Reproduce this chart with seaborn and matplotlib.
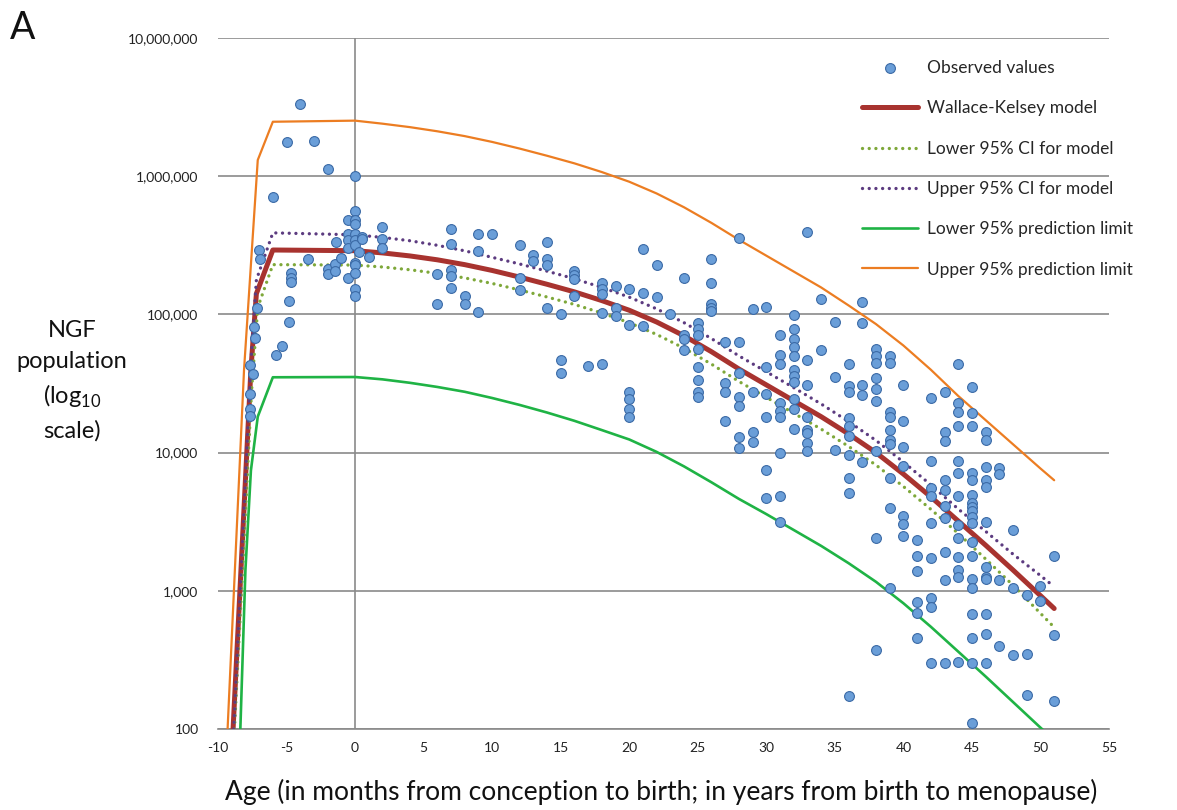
import matplotlib
matplotlib.use("Agg")
import matplotlib.pyplot as plt
import seaborn as sns
import numpy as np
import pandas as pd

# ---------------- data ----------------
# Observed values, prenatal (age in months, negative = before birth)
pre_age = [-7.65, -7.46, -7.65, -7.7, -7.7, -7.36, -7.29, -7.19, -7.0, -6.95,
           -6.0, -5.76, -5.3, -4.98, -4.83, -4.83, -4.64, -4.64, -4.64, -4.03,
           -3.47, -3.0, -2.0, -2.0, -2.0, -1.5, -1.5, -1.4, -1.04,
           -0.5, -0.5, -0.5, -0.5, -0.5,
           0, 0, 0, 0, 0, 0, 0, 0, 0, 0, 0, 0,
           0.25, 0.5, 0.5, 1.0, 2.0, 2.0, 2.0]
pre_value = [43000, 37000, 26500, 20600, 18400, 81000, 67000, 112000, 294000, 251000,
             703000, 51000, 59000, 1760000, 124000, 88000, 198000, 184000, 172000, 3330000,
             251000, 1800000, 1120000, 213000, 195000, 233000, 207000, 334000, 255000,
             482000, 382000, 344000, 304000, 183000,
             1000000, 557000, 482000, 449000, 382000, 344000, 318000, 237000, 229000, 198000, 152000, 137000,
             284000, 365000, 350000, 260000, 432000, 349000, 304000]

# Observed values, postnatal (age in years) grouped by age
post_ages = [6, 7, 8, 9, 10, 12, 13, 14, 15, 16, 17, 18, 19, 20, 21, 22, 23, 24, 25, 26,
             27, 28, 29, 30, 31, 32, 33, 34, 35, 36, 37, 38, 39, 40, 41, 42, 43, 44, 45,
             46, 47, 48, 49, 50, 51]
post_values = [
    [195000, 119000],
    [415000, 323000, 209000, 190000, 154000],
    [136000, 119000],
    [384000, 289000, 104000],
    [384000],
    [316000, 182000, 150000],
    [268000, 245000],
    [334000, 251000, 228000, 112000],
    [100000, 46800, 37800],
    [206000, 193000, 179000, 136000],
    [42500],
    [168000, 153000, 140000, 102000, 44000],
    [160000, 112000, 97000],
    [152000, 84000, 27600, 24400, 20600, 18000],
    [297000, 144000, 83000],
    [226000, 134000],
    [101000],
    [182000, 71000, 66000, 55000],
    [87000, 79000, 71000, 56000, 41600, 33500, 27600, 25400],
    [250000, 170000, 118000, 111000, 106000],
    [63000, 31700, 27600, 16900],
    [356000, 63000, 37700, 25200, 21800, 12900, 10800],
    [110000, 27500, 14000, 11900],
    [114000, 41600, 26700, 18100, 7500, 4700],
    [70600, 50600, 43800, 22700, 20000, 18000, 9900, 4850, 3160],
    [99500, 79000, 66000, 58000, 50000, 39800, 36000, 32300, 24500, 20600, 14800],
    [396000, 46800, 30800, 18200, 14600, 13800, 11700, 10200],
    [130000, 55000],
    [87700, 35000, 10400],
    [44000, 30500, 27600, 17700, 15600, 13200, 9600, 6600, 5100, 173],
    [122000, 86000, 30800, 26100, 8500],
    [55800, 50000, 44700, 34800, 28800, 23800, 10200, 2400, 373],
    [50000, 44300, 19800, 18200, 14600, 12300, 11500, 6500, 4000, 1040],
    [30800, 17000, 10900, 8000, 3500, 3040, 2500],
    [2330, 1800, 1400, 826, 687, 453],
    [24900, 8700, 5500, 4850, 3080, 1720, 884, 767, 299],
    [27600, 14200, 12200, 6300, 5400, 4100, 3350, 1900, 1200, 299],
    [44000, 22700, 19800, 15700, 8700, 7100, 4850, 3000, 2400, 1770, 1410, 1260, 307],
    [29700, 19500, 15700, 7100, 6300, 4900, 4300, 4070, 3800, 3440, 3100, 2260, 1800,
     1210, 1040, 680, 453, 299, 111],
    [14000, 12400, 7900, 6300, 5600, 3160, 1490, 1260, 1210, 680, 486, 299],
    [7700, 7000, 1200, 401],
    [2760, 1040, 343],
    [933, 349, 176],
    [1080, 843],
    [1800, 479, 160],
]

# Model curves as log10(NGF) values
curve_age_post = [0, 2, 4, 6, 8, 10, 12, 14, 16, 18, 20, 22, 24, 26, 28, 30, 32, 34,
                  36, 38, 40, 42, 44, 46, 48, 50, 51]

wk_age_pre = [-8.9, -7.6, -7.2, -6.0]
wk_log_pre = [2.0, 4.6, 5.15, 5.466]
wk_log_post = [5.461, 5.445, 5.423, 5.395, 5.36, 5.318, 5.27, 5.218, 5.163, 5.1, 5.03,
               4.945, 4.845, 4.73, 4.605, 4.49, 4.375, 4.26, 4.135, 4.0, 3.845, 3.68, 3.505,
               3.33, 3.15, 2.965, 2.872]

ci_up_age_pre = [-8.85, -7.6, -7.2, -6.0]
ci_up_log_pre = [2.0, 4.65, 5.25, 5.59]
ci_up_log_post = [5.576, 5.557, 5.533, 5.50, 5.46, 5.413, 5.365, 5.313, 5.258, 5.195, 5.125,
                  5.04, 4.94, 4.825, 4.70, 4.585, 4.47, 4.352, 4.225, 4.088, 3.932, 3.767,
                  3.592, 3.43, 3.265, 3.11, 3.03]

ci_lo_age_pre = [-8.8, -7.55, -7.1, -6.0]
ci_lo_log_pre = [2.0, 4.45, 5.05, 5.36]
ci_lo_log_post = [5.357, 5.343, 5.323, 5.297, 5.264, 5.224, 5.177, 5.126, 5.072, 5.01, 4.94,
                  4.855, 4.755, 4.64, 4.515, 4.40, 4.285, 4.17, 4.045, 3.91, 3.755, 3.59, 3.415,
                  3.23, 3.04, 2.837, 2.736]

pl_lo_age_pre = [-8.37, -8.0, -7.6, -7.1, -6.0]
pl_lo_log_pre = [2.0, 3.15, 3.87, 4.26, 4.545]
pl_lo_log_post = [4.547, 4.53, 4.505, 4.475, 4.44, 4.395, 4.345, 4.29, 4.23, 4.163, 4.095,
                  4.005, 3.9, 3.785, 3.665, 3.555, 3.44, 3.325, 3.2, 3.065, 2.91, 2.74, 2.56,
                  2.38, 2.195, 2.01, 1.92]

pl_up_age_pre = [-9.3, -8.1, -7.1, -6.0]
pl_up_log_pre = [2.0, 4.6, 6.117, 6.394]
pl_up_log_post = [6.402, 6.38, 6.355, 6.325, 6.29, 6.248, 6.2, 6.148, 6.093, 6.03, 5.96,
                  5.875, 5.775, 5.662, 5.54, 5.425, 5.31, 5.195, 5.065, 4.93, 4.775, 4.6, 4.41,
                  4.235, 4.06, 3.885, 3.8]

x_ticks = list(range(-10, 56, 5))
y_ticks = [100, 1000, 10000, 100000, 1000000, 10000000]
y_tick_labels = ["100", "1,000", "10,000", "100,000", "1,000,000", "10,000,000"]

legend_labels = ["Observed values", "Wallace-Kelsey model", "Lower 95% CI for model",
                 "Upper 95% CI for model", "Lower 95% prediction limit",
                 "Upper 95% prediction limit"]

# ---------------- build tables ----------------
obs_age = list(pre_age)
obs_value = list(pre_value)
for a, vals in zip(post_ages, post_values):
    obs_age += [a] * len(vals)
    obs_value += vals
obs = pd.DataFrame({"age": obs_age, "ngf": obs_value})


def curve(age_pre, log_pre, log_post):
    ages = list(age_pre) + list(curve_age_post)
    vals = np.power(10.0, np.array(list(log_pre) + list(log_post)))
    return ages, vals


wk_x, wk_y = curve(wk_age_pre, wk_log_pre, wk_log_post)
cu_x, cu_y = curve(ci_up_age_pre, ci_up_log_pre, ci_up_log_post)
cl_x, cl_y = curve(ci_lo_age_pre, ci_lo_log_pre, ci_lo_log_post)
pl_x, pl_y = curve(pl_lo_age_pre, pl_lo_log_pre, pl_lo_log_post)
pu_x, pu_y = curve(pl_up_age_pre, pl_up_log_pre, pl_up_log_post)

# ---------------- plot ----------------
sns.set_style("white")
plt.rcParams["font.family"] = ["Lato", "DejaVu Sans"]
plt.rcParams["mathtext.fontset"] = "custom"
plt.rcParams["mathtext.rm"] = "Lato"

fig = plt.figure(figsize=(11.77, 8.10), dpi=100)
ax = fig.add_axes([218 / 1177, 1 - 729 / 810, (1109 - 218) / 1177, (729 - 38) / 810])

grid_col = "#8a8a8a"
dotted = (0, (0.01, 2.0))

sns.lineplot(x=wk_x, y=wk_y, ax=ax, color="#a8332f", lw=3.6, sort=False,
             estimator=None, zorder=3, solid_joinstyle="round")
sns.lineplot(x=cl_x, y=cl_y, ax=ax, color="#7ea83a", lw=2.4, sort=False,
             estimator=None, linestyle=dotted, dash_capstyle="round", zorder=3)
sns.lineplot(x=cu_x, y=cu_y, ax=ax, color="#5c3b80", lw=2.4, sort=False,
             estimator=None, linestyle=dotted, dash_capstyle="round", zorder=3)
sns.lineplot(x=pl_x, y=pl_y, ax=ax, color="#1fb345", lw=1.9, sort=False,
             estimator=None, zorder=3)
sns.lineplot(x=pu_x, y=pu_y, ax=ax, color="#ec7d22", lw=1.6, sort=False,
             estimator=None, zorder=3)
sns.scatterplot(data=obs, x="age", y="ngf", ax=ax, s=50, color="#6a9ed8",
                edgecolor="#3b6aa6", linewidth=0.8, zorder=5)

ax.set_yscale("log")
ax.set_xlim(-10, 55)
ax.set_ylim(100, 10000000)

ax.set_yticks(y_ticks)
ax.set_yticklabels(y_tick_labels)
ax.yaxis.set_minor_locator(matplotlib.ticker.NullLocator())
ax.set_xticks(x_ticks)
ax.set_xticklabels([str(t) for t in x_ticks])

ax.tick_params(axis="y", length=0, pad=14, labelsize=10, labelcolor="#222222")
ax.tick_params(axis="x", length=5, width=1, color=grid_col, direction="out", pad=4,
               labelsize=10, labelcolor="#222222")

ax.yaxis.grid(True, color=grid_col, lw=1.2)
ax.xaxis.grid(False)
ax.axvline(0, color=grid_col, lw=1.2, zorder=1)
for s in ["left", "top", "right"]:
    ax.spines[s].set_visible(False)
ax.spines["bottom"].set_color(grid_col)
ax.spines["bottom"].set_linewidth(1.2)
ax.set_xlabel("")
ax.set_ylabel("")

# legend
lines = ax.get_lines()
handles = [ax.collections[0]] + [lines[i] for i in range(5)]
ax.legend(handles, legend_labels, loc="upper left",
          bbox_to_anchor=(862 / 1177, 1 - 60 / 810), bbox_transform=fig.transFigure,
          frameon=False, fontsize=12.5, labelspacing=1.40, handlelength=3.2,
          handletextpad=0.55, borderpad=0, borderaxespad=0, markerscale=1.0)

# texts
fig.text(661 / 1177, 1 - 792 / 810,
         "Age (in months from conception to birth; in years from birth to menopause)",
         ha="center", va="center", fontsize=19, color="#111111")
fig.text(72 / 1177, 1 - 381 / 810,
         "NGF\npopulation\n(log$_{\\mathregular{10}}$\nscale)",
         ha="center", va="center", multialignment="center", fontsize=17,
         linespacing=1.55, color="#111111")
fig.text(10 / 1177, 1 - 28 / 810, "A", ha="left", va="center", fontsize=27,
         color="#111111")

fig.savefig("out.png", dpi=100, facecolor="white")
